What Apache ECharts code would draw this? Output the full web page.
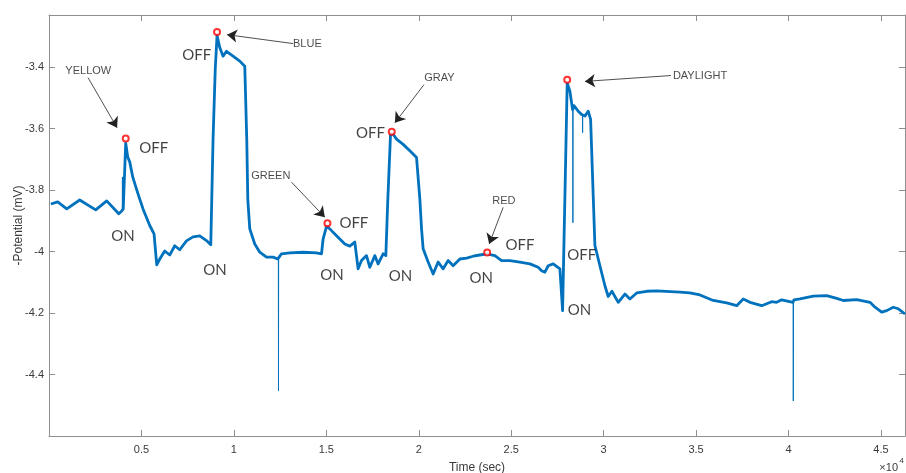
<!DOCTYPE html>
<html>
<head>
<meta charset="utf-8">
<script src="https://cdn.jsdelivr.net/npm/echarts@6/dist/echarts.min.js"></script>
<style>
  html, body { margin: 0; padding: 0; background: #ffffff; }
  #chart { width: 906px; height: 473px; }
</style>
</head>
<body>
<div id="chart"></div>
<script>
// Recorded potential trace (time in seconds, -potential in mV)
const timeSec = [
  100, 471, 958, 1661, 2527, 3122, 3772, 3934, 4015, 4150, 4258, 4367, 4529, 4729, 4908, 5086, 5449, 5682,
  5828, 5990, 6260, 6531, 6802, 7072, 7435, 7792, 8154, 8517, 8750,
  8874, 8993, 9090, 9237, 9415, 9599, 9956, 10319, 10589, 10660,
  10697, 10752, 10860, 11130, 11401, 11764, 12121, 12375, 12456, 12575, 13024, 13744, 14469, 14740,
  14826, 15010, 15189, 15551, 16000, 16271, 16541, 16634,
  16720, 16904, 17174, 17353, 17624, 17802, 18073, 18219,
  18327, 18473, 18614, 18798, 19155, 19517, 19880, 19967,
  20059, 20151, 20237, 20508, 20778, 21049, 21319, 21590, 21860, 22223, 22585, 22943, 23305, 23668,
  24117, 24479, 24928, 25470, 26011, 26460, 26644, 26822, 27001, 27271, 27634, 27726, 27780,
  28029, 28175, 28267, 28321, 28392, 28446, 28624, 28808, 28906, 28987, 29165, 29295, 29349,
  29528, 29798, 30069, 30247, 30448, 30789, 31151, 31422, 31800, 32326, 32866, 34127, 34668, 35209,
  35929, 36654, 37195, 37552, 37915, 38548, 39089, 39360, 39630, 40242, 40296, 40620, 41340, 42065,
  42606, 42963, 43688, 44408, 44679, 45041, 45312, 45669, 45940, 46302
];
const potential = [
  -3.845, -3.838, -3.861, -3.832, -3.864, -3.835, -3.877, -3.868, -3.861, -3.647, -3.692, -3.708, -3.757, -3.796, -3.829, -3.861, -3.915, -3.942,
  -4.043, -4.024, -3.998, -4.011, -3.981, -3.994, -3.965, -3.952, -3.949, -3.964, -3.978,
  -3.633, -3.405, -3.297, -3.336, -3.364, -3.348, -3.364, -3.380, -3.397, -3.401,
  -3.635, -3.829, -3.926, -3.975, -4.002, -4.018, -4.018, -4.024, -4.017, -4.007, -4.004, -4.002, -4.004, -4.007,
  -3.959, -3.918, -3.926, -3.948, -3.975, -3.982, -3.969, -3.975,
  -4.056, -4.029, -4.013, -4.051, -4.013, -4.040, -4.007, -4.013,
  -3.829, -3.618, -3.618, -3.634, -3.651, -3.672, -3.694, -3.699,
  -3.829, -3.926, -3.991, -4.034, -4.073, -4.034, -4.056, -4.029, -4.046, -4.024, -4.021, -4.015, -4.011, -4.007,
  -4.013, -4.029, -4.029, -4.034, -4.040, -4.051, -4.062, -4.067, -4.046, -4.040, -4.056, -4.054, -4.192,
  -3.451, -3.478, -3.516, -3.538, -3.525, -3.521, -3.543, -3.554, -3.557, -3.559, -3.543, -3.570, -3.573,
  -3.980, -4.046, -4.111, -4.146, -4.129, -4.165, -4.138, -4.154, -4.134, -4.129, -4.128, -4.132, -4.134, -4.141,
  -4.159, -4.167, -4.176, -4.154, -4.165, -4.176, -4.163, -4.165, -4.157, -4.165, -4.157, -4.154, -4.145, -4.143,
  -4.152, -4.159, -4.156, -4.165, -4.181, -4.197, -4.192, -4.181, -4.186, -4.203
];

// Brief single-sample excursions
const spikeTime = [3972, 12413, 28337, 28862, 40258];
const spikeBase = [-3.866, -4.022, -3.532, -3.556, -4.162];
const spikeTip = [-3.757, -4.453, -3.906, -3.613, -4.486];

// Response peaks for each light source
const lightNames = ['YELLOW', 'BLUE', 'GREEN', 'GRAY', 'RED', 'DAYLIGHT'];
const peakTime = [4150, 9090, 15060, 18540, 23700, 28030];
const peakValue = [-3.632, -3.285, -3.908, -3.610, -4.003, -3.441];

// Callout text and arrow positions (data units)
const nameTime = [2124, 13974, 11999, 21117, 24606, 35212];
const nameValue = [-3.411, -3.323, -3.753, -3.434, -3.834, -3.429];
const arrowFromTime = [2113, 13203, 13118, 20278, 24566, 33643];
const arrowFromValue = [-3.434, -3.323, -3.774, -3.457, -3.856, -3.427];
const arrowToTime = [3682, 9632, 14921, 18709, 23809, 28990];
const arrowToValue = [-3.597, -3.294, -3.888, -3.581, -3.975, -3.446];

// Light switching events
const switchText = ['OFF', 'ON', 'OFF', 'ON', 'OFF', 'ON', 'OFF', 'ON', 'OFF', 'ON', 'OFF', 'ON'];
const switchTime = [5668, 4004, 7995, 8982, 16490, 15300, 17383, 19006, 25472, 23378, 28816, 28692];
const switchValue = [-3.662, -3.950, -3.362, -4.059, -3.907, -4.078, -3.613, -4.081, -3.980, -4.087, -4.011, -4.192];

// Axis tick labels
const xTickLabels = ['0.5', '1', '1.5', '2', '2.5', '3', '3.5', '4', '4.5'];
const yTickLabels = ['-4.4', '-4.2', '-4', '-3.8', '-3.6', '-3.4'];

const axisGray = '#8f8f8f';
const textGray = '#3a3a3a';
const traceBlue = '#0072bd';
const font = "'Liberation Sans', Arial, sans-serif";

const traceData = timeSec.map((t, i) => [t, potential[i]]);
const spikeData = [];
spikeTime.forEach((t, i) => {
  spikeData.push([t - 8, spikeBase[i]], [t, spikeTip[i]], [t + 8, spikeBase[i]], [t + 9, null]);
});

const xBase = {
  type: 'value', min: 0, max: 46300, interval: 5000,
  splitLine: { show: false },
  axisLine: { show: true, onZero: false, lineStyle: { color: axisGray, width: 1 } },
  axisTick: { show: true, inside: true, length: 6, lineStyle: { color: axisGray } }
};
const yBase = {
  type: 'value', min: -4.6, max: -3.23, interval: 0.2,
  splitLine: { show: false },
  axisLine: { show: true, onZero: false, lineStyle: { color: axisGray, width: 1 } },
  axisTick: { show: true, inside: true, length: 6, lineStyle: { color: axisGray } }
};

const option = {
  animation: false,
  backgroundColor: '#ffffff',
  grid: { left: 49, right: 1, top: 15, bottom: 37, containLabel: false, outerBoundsMode: 'none' },
  xAxis: [
    Object.assign({}, xBase, {
      position: 'bottom',
      name: 'Time (sec)', nameLocation: 'middle', nameGap: 26, nameMoveOverlap: false,
      nameTextStyle: { color: textGray, fontFamily: font, fontSize: 12 },
      axisLabel: {
        show: true, margin: 8, color: textGray, fontFamily: font, fontSize: 11,
        showMinLabel: false, showMaxLabel: false,
        formatter: v => {
          const s = String(parseFloat((v / 10000).toFixed(2)));
          return xTickLabels.indexOf(s) >= 0 ? s : '';
        }
      }
    }),
    Object.assign({}, xBase, { position: 'top', axisLabel: { show: false } })
  ],
  yAxis: [
    Object.assign({}, yBase, {
      position: 'left',
      name: '-Potential (mV)', nameLocation: 'middle', nameGap: 24, nameMoveOverlap: false,
      nameTextStyle: { color: textGray, fontFamily: font, fontSize: 12 },
      axisLabel: {
        show: true, margin: 5, color: textGray, fontFamily: font, fontSize: 11,
        showMinLabel: false, showMaxLabel: false,
        formatter: v => {
          const s = String(parseFloat(v.toFixed(2)));
          return yTickLabels.indexOf(s) >= 0 ? s : '';
        }
      }
    }),
    Object.assign({}, yBase, { position: 'right', axisLabel: { show: false } })
  ],
  graphic: [
    { type: 'text', right: 8, top: 462, style: { text: '×10', fill: textGray, font: "11px 'Liberation Sans', Arial, sans-serif" } },
    { type: 'text', right: 2, top: 457, style: { text: '4', fill: textGray, font: "8px 'Liberation Sans', Arial, sans-serif" } }
  ],
  series: [
    {
      name: 'trace', type: 'line', data: traceData, showSymbol: false, symbol: 'none',
      lineStyle: { color: traceBlue, width: 2.8, join: 'round' }, z: 2, silent: true
    },
    {
      name: 'spikes', type: 'line', data: spikeData, showSymbol: false, symbol: 'none', connectNulls: false,
      lineStyle: { color: traceBlue, width: 1 }, z: 2, silent: true
    },
    {
      name: 'peaks', type: 'scatter', z: 5, silent: true,
      data: peakTime.map((t, i) => [t, peakValue[i]]),
      symbol: 'circle', symbolSize: 6,
      itemStyle: { color: '#ffffff', borderColor: '#ff0000', borderWidth: 2 }
    },
    {
      name: 'callouts', type: 'scatter', z: 6, silent: true, symbolSize: 0,
      data: lightNames.map((n, i) => ({ name: n, value: [nameTime[i], nameValue[i]] })),
      label: { show: true, position: 'inside', formatter: p => p.name, color: '#1a1a1a', fontFamily: font, fontSize: 11 },
      markLine: {
        silent: true, animation: false,
        symbol: ['none', 'arrow'], symbolSize: 10,
        label: { show: false },
        lineStyle: { color: '#222222', width: 0.8, type: 'solid' },
        emphasis: { disabled: true },
        data: arrowFromTime.map((t, i) => [
          { coord: [t, arrowFromValue[i]] },
          { coord: [arrowToTime[i], arrowToValue[i]] }
        ])
      }
    },
    {
      name: 'switching', type: 'scatter', z: 6, silent: true, symbolSize: 0,
      data: switchText.map((s, i) => ({ name: s, value: [switchTime[i], switchValue[i]] })),
      label: { show: true, position: 'inside', formatter: p => p.name, color: '#111111', fontFamily: "Lato, 'Open Sans', sans-serif", fontSize: 15 }
    }
  ]
};

const chart = echarts.init(document.getElementById('chart'), null, { renderer: 'canvas' });
chart.setOption(option);
</script>
</body>
</html>
